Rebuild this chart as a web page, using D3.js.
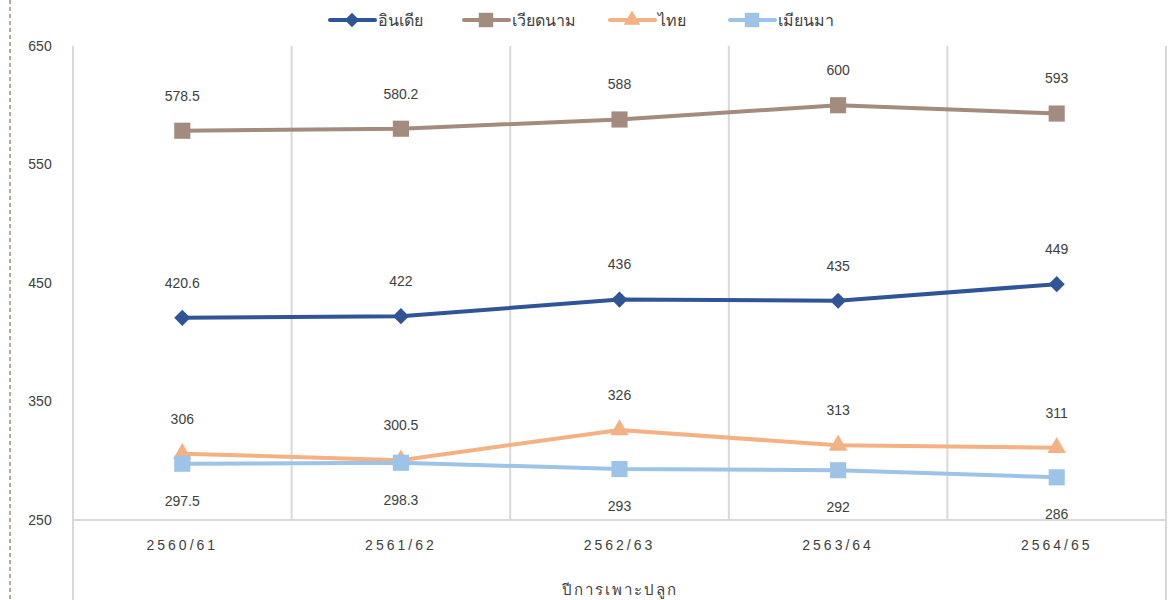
<!DOCTYPE html>
<html>
<head>
    <meta charset="utf-8">
    <script src="https://d3js.org/d3.v7.min.js"></script>
    <style>
        body { margin: 0; background: #fff; font-family: "Liberation Sans", Arial, sans-serif; }
        svg { display: block; }
        .lbl { font-size: 14px; fill: #404040; }
    </style>
</head>
<body>
<svg width="1171" height="600"></svg>
<script>
    const years = ["2560/61", "2561/62", "2562/63", "2563/64", "2564/65"];
    const india = [420.6, 422, 436, 435, 449];
    const vietnam = [578.5, 580.2, 588, 600, 593];
    const thai = [306, 300.5, 326, 313, 311];
    const myanmar = [297.5, 298.3, 293, 292, 286];
    const yTicks = [250, 350, 450, 550, 650];

    // marker: shape, symbol size, rotation
    const series = [
        { name: "อินเดีย", values: india, color: "#2F5597", shape: d3.symbolSquare, size: 130, rot: 45, labelDy: -35 },
        { name: "เวียดนาม", values: vietnam, color: "#A38B7D", shape: d3.symbolSquare, size: 260, rot: 0, labelDy: -35 },
        { name: "ไทย", values: thai, color: "#F4B183", shape: d3.symbolTriangle, size: 150, rot: 0, labelDy: -35 },
        { name: "เมียนมา", values: myanmar, color: "#9DC3E6", shape: d3.symbolSquare, size: 260, rot: 0, labelDy: 37 }
    ];

    const svg = d3.select("svg");
    const plotLeft = 73, plotRight = 1166, plotTop = 46, plotBottom = 520;

    const x = d3.scaleBand().domain(years).range([plotLeft, plotRight]);
    const y = d3.scaleLinear().domain([250, 650]).range([plotBottom, plotTop]);

    // dashed border at left
    svg.append("line")
       .attr("x1", 10).attr("x2", 10).attr("y1", 0).attr("y2", 600)
       .attr("stroke", "#A38B7D").attr("stroke-width", 1.5).attr("stroke-dasharray", "4,3");

    // vertical grid lines at band edges
    const edges = years.map(d => x(d)).concat([plotRight]);
    svg.selectAll(".vg").data(edges).enter().append("line")
       .attr("x1", d => d).attr("x2", d => d)
       .attr("y1", plotTop)
       .attr("y2", (d, i) => (i === 0 || i === edges.length - 1) ? 600 : plotBottom)
       .attr("stroke", "#D9D9D9").attr("stroke-width", 2);

    // bottom axis line
    svg.append("line")
       .attr("x1", plotLeft).attr("x2", plotRight).attr("y1", plotBottom).attr("y2", plotBottom)
       .attr("stroke", "#D9D9D9").attr("stroke-width", 2);

    // y labels
    svg.selectAll(".yl").data(yTicks).enter().append("text")
       .attr("class", "lbl")
       .attr("x", 40).attr("y", d => y(d))
       .attr("dy", "0.35em")
       .attr("text-anchor", "middle")
       .text(d => d);

    // x labels
    svg.selectAll(".xl").data(years).enter().append("text")
       .attr("class", "lbl")
       .attr("x", d => x(d) + x.bandwidth() / 2)
       .attr("y", 550)
       .attr("text-anchor", "middle")
       .attr("letter-spacing", "3px")
       .text(d => d);

    svg.append("text")
       .attr("class", "lbl")
       .attr("x", (plotLeft + plotRight) / 2).attr("y", 595)
       .attr("text-anchor", "middle")
       .attr("letter-spacing", "2px")
       .style("font-size", "15px")
       .text("ปีการเพาะปลูก");

    const line = d3.line()
        .x((d, i) => x(years[i]) + x.bandwidth() / 2)
        .y(d => y(d));

    series.forEach(s => {
        const g = svg.append("g");
        g.append("path")
         .datum(s.values)
         .attr("d", line)
         .attr("fill", "none")
         .attr("stroke", s.color)
         .attr("stroke-width", 4);

        g.selectAll("path.m").data(s.values).enter().append("path")
         .attr("class", "m")
         .attr("d", d3.symbol().type(s.shape).size(s.size))
         .attr("transform", (d, i) => `translate(${x(years[i]) + x.bandwidth() / 2},${y(d)}) rotate(${s.rot})`)
         .attr("fill", s.color);

        g.selectAll("text").data(s.values).enter().append("text")
         .attr("class", "lbl")
         .attr("x", (d, i) => x(years[i]) + x.bandwidth() / 2)
         .attr("y", d => y(d) + s.labelDy)
         .attr("dy", "0.35em")
         .attr("text-anchor", "middle")
         .text(d => d);
    });

    // legend
    const legX = [328, 462, 608, 728];
    const leg = svg.selectAll(".leg").data(series).enter().append("g")
        .attr("transform", (d, i) => `translate(${legX[i]},20)`);
    leg.append("line")
       .attr("x1", 2).attr("x2", 47).attr("y1", 0).attr("y2", 0)
       .attr("stroke", d => d.color).attr("stroke-width", 4).attr("stroke-linecap", "round");
    leg.append("path")
       .attr("d", d => d3.symbol().type(d.shape).size(d.size * 0.8)())
       .attr("transform", d => `translate(24,0) rotate(${d.rot})`)
       .attr("fill", d => d.color);
    leg.append("text")
       .attr("class", "lbl")
       .attr("x", 50).attr("y", 0).attr("dy", "0.35em")
       .style("font-size", "16px")
       .text(d => d.name);
</script>
</body>
</html>
